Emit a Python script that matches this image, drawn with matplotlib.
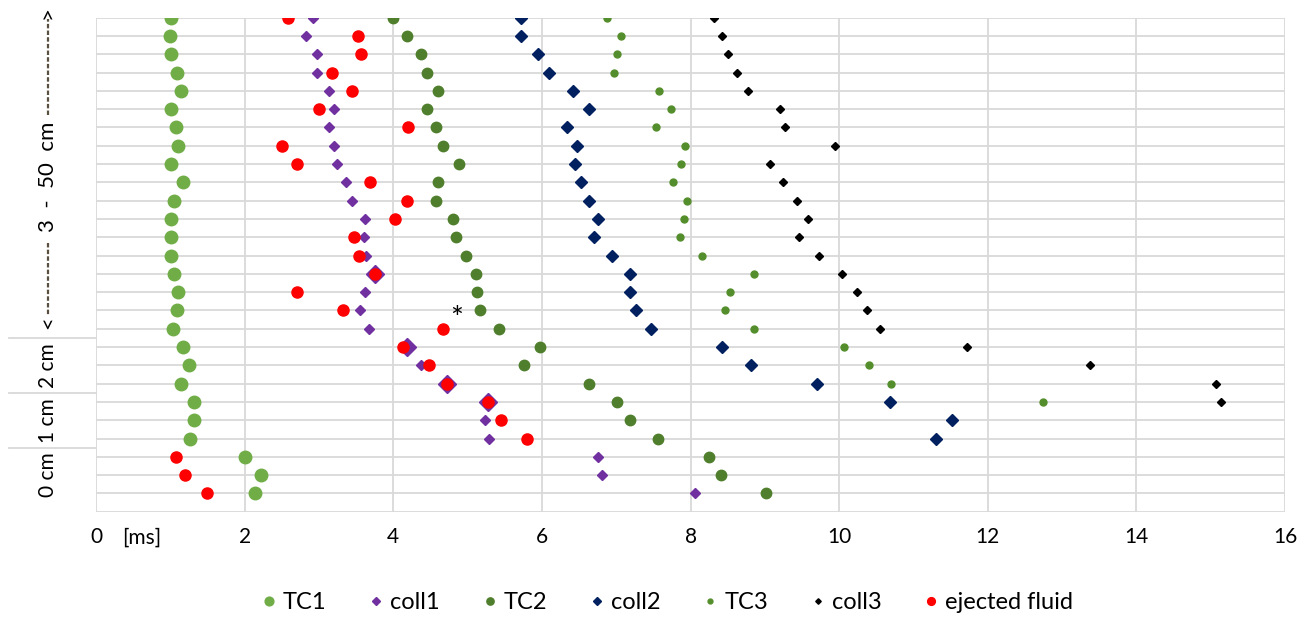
import numpy as np
import matplotlib.pyplot as plt
from matplotlib.transforms import blended_transform_factory

plt.rcParams['font.family'] = ['Lato', 'DejaVu Sans']

nan = np.nan

# times in ms, one value per row, rows listed from top to bottom
tc1 = [1.01, 0.99, 1.01, 1.09, 1.14, 1.01, 1.07, 1.11, 1.01, 1.17, 1.05, 1.01, 1.01, 1.01,
       1.05, 1.11, 1.09, 1.04, 1.17, 1.25, 1.14, 1.32, 1.32, 1.27, 2.01, 2.22, 2.14]
coll1 = [2.92, 2.83, 2.97, 2.98, 3.13, 3.20, 3.13, 3.20, 3.24, 3.36, 3.45, 3.62, 3.60, 3.64,
         3.76, 3.62, 3.55, 3.67, 4.19, 4.37, 4.72, 5.28, 5.24, 5.29, 6.76, 6.81, 8.06]
tc2 = [3.99, 4.18, 4.37, 4.46, 4.60, 4.46, 4.58, 4.67, 4.88, 4.60, 4.58, 4.81, 4.85, 4.98,
       5.11, 5.13, 5.17, 5.42, 5.98, 5.76, 6.63, 7.01, 7.18, 7.56, 8.25, 8.41, 9.02]
coll2 = [5.72, 5.72, 5.95, 6.09, 6.42, 6.63, 6.34, 6.47, 6.44, 6.52, 6.64, 6.76, 6.70, 6.94,
         7.19, 7.19, 7.27, 7.47, 8.43, 8.81, 9.70, 10.69, 11.52, 11.30, nan, nan, nan]
tc3 = [6.87, 7.07, 7.01, 6.97, 7.58, 7.74, 7.54, 7.93, 7.87, 7.76, 7.95, 7.91, 7.86, 8.15,
       8.86, 8.53, 8.47, 8.85, 10.07, 10.40, 10.70, 12.74, nan, nan, nan, nan, nan]
coll3 = [8.31, 8.43, 8.50, 8.63, 8.77, 9.21, 9.27, 9.94, 9.07, 9.25, 9.43, 9.58, 9.46, 9.73,
         10.04, 10.24, 10.38, 10.55, 11.72, 13.38, 15.07, 15.14, nan, nan, nan, nan, nan]
ejected = [2.58, 3.53, 3.57, 3.17, 3.45, 3.00, 4.20, 2.50, 2.70, 3.69, 4.18, 4.02, 3.47, 3.54,
           3.76, 2.70, 3.33, 4.67, 4.13, 4.48, 4.72, 5.27, 5.45, 5.80, 1.08, 1.20, 1.49]

groups = ['3  -  50  cm', '2 cm', '1 cm', '0 cm']
group_rows = [18, 3, 3, 3]
x_ticks = [0, 2, 4, 6, 8, 10, 12, 14, 16]

n = len(tc1)
y = np.arange(n, 0, -1)  # top row = n

fig = plt.figure(figsize=(13.07, 6.17), dpi=100)
ax = fig.add_axes([96 / 1307, 1 - 511.7 / 617, (1285 - 96) / 1307, (511.7 - 17.7) / 617])

ax.set_xlim(0, 16)
ax.set_ylim(0, n)
ax.set_xticks(x_ticks)
ax.set_yticks(np.arange(0, n + 1))
ax.set_yticklabels([])
ax.grid(True, color='#d9d9d9', linewidth=1.3)
ax.set_axisbelow(True)
for s in ax.spines.values():
    s.set_visible(False)
ax.tick_params(length=0, labelsize=15, pad=11)
ax.set_xticklabels([str(t) for t in x_ticks])

c1 = np.array(coll1)
ej = np.array(ejected)
big = np.abs(c1 - ej) < 0.08

ax.plot(tc1, y, 'o', color='#70ad47', ms=9, ls='none', label='TC1')
ax.plot(c1[~big], y[~big], 'D', color='#7030a0', ms=5.5, ls='none', label='coll1')
ax.plot(c1[big], y[big], 'D', color='#7030a0', ms=9, ls='none')
ax.plot(tc2, y, 'o', color='#4f7f2c', ms=7.5, ls='none', label='TC2')
ax.plot(coll2, y, 'D', color='#002060', ms=6, ls='none', label='coll2')
ax.plot(tc3, y, 'o', color='#548e2c', ms=5, ls='none', label='TC3')
ax.plot(coll3, y, 'D', color='black', ms=4, ls='none', label='coll3')
ax.plot(ejected, y, 'o', color='#ff0000', ms=8, ls='none', label='ejected fluid')

ax.text(4.85, 10.55, '*', fontsize=22, ha='center', va='center', color='black')

# [ms] next to the zero tick
xb = blended_transform_factory(ax.transData, ax.transAxes)
ax.text(0.62, -0.0535, '[ms]', transform=xb, fontsize=15, ha='center', va='center')

# group labels on the left
tr = blended_transform_factory(ax.transAxes, ax.transData)
lx = -0.040
top = n
for i, (g, k) in enumerate(zip(groups, group_rows)):
    lo = top - k
    mid = (top + lo + 1) / 2.0
    if i == 0:
        mid = mid - 0.2
        ax.text(lx, mid, g, transform=tr, rotation=90, fontsize=16,
                ha='center', va='center')
        ax.plot([lx, lx], [mid + 3.4, top - 0.05], transform=tr, color='#5a5040',
                lw=1.6, ls=(0, (2, 1)), clip_on=False)
        ax.plot([lx, lx], [mid - 3.6, lo + 1.7], transform=tr, color='#5a5040',
                lw=1.6, ls=(0, (2, 1)), clip_on=False)
        ax.text(lx, top + 0.3, '>', transform=tr, rotation=90, fontsize=16,
                ha='center', va='center')
        ax.text(lx, lo + 1.35, '<', transform=tr, rotation=90, fontsize=16,
                ha='center', va='center')
    else:
        ax.text(lx, mid, g, transform=tr, rotation=90, fontsize=15,
                ha='center', va='center')
        ax.plot([-0.073, 0], [top + 0.5, top + 0.5], transform=tr, color='#d9d9d9',
                lw=1.3, clip_on=False)
    top = lo

fig.legend(loc='center', bbox_to_anchor=(0.509, 0.023), ncol=7, frameon=False,
           fontsize=17, markerscale=0.7, handletextpad=0.1, columnspacing=1.6,
           handlelength=1.0)

fig.savefig('out.png', dpi=100)
